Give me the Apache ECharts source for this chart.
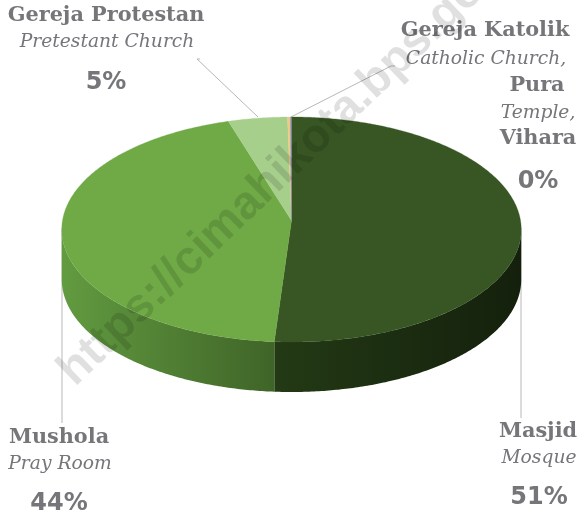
<!DOCTYPE html>
<html><head><meta charset="utf-8">
<style>html,body{margin:0;padding:0;background:#fff}#c{width:578px;height:518px}</style>
<script src="https://cdn.jsdelivr.net/npm/echarts@6/dist/echarts.min.js"></script>
</head><body><div id="c"></div>
<script>
// Data
const categories = ['Masjid', 'Mushola', 'Gereja Protestan', 'Gereja Katolik', 'Pura', 'Vihara'];
const englishNames = ['Mosque', 'Pray Room', 'Pretestant Church', 'Catholic Church', 'Temple', ''];
const values = [51.1, 44.1, 4.5, 0.2, 0.05, 0.05];
const percentLabels = ['51%', '44%', '5%', '0%'];
const topColors = ['#375623', '#6faa46', '#a6cf8b', '#f2c984', '#8faadc', '#7f7f7f'];
const wallLeft = ['#233a15', '#629b40'];
const wallRight = ['#14200c', '#3f6428'];

// Projection of the tilted pie
const CX = 291.5, CY = 220.5, RX = 229, RY = 111.8, K = 0.08, DEPTH = 50;
const total = values.reduce((a, b) => a + b, 0);
let acc = 0;
const spans = values.map(v => { const s = acc / total * 2 * Math.PI; acc += v; return [s, acc / total * 2 * Math.PI]; });
function project(t) {
  const X = Math.sin(t), Z = Math.cos(t), d = 1 + K * Z;
  return [CX + RX * X / d, CY - RY * Z / d];
}
function arc(a, b) {
  const n = Math.max(2, Math.ceil(Math.abs(b - a) / 0.01)), out = [];
  for (let i = 0; i <= n; i++) out.push(project(a + (b - a) * i / n));
  return out;
}
const frontA = Math.PI / 2 + Math.asin(K), frontB = 3 * Math.PI / 2 - Math.asin(K);

const TEXT = '#76767a';
const serifBold = 'bold 20.8px "DejaVu Serif"';
const serifItalic = 'italic 18.7px "DejaVu Serif"';
const pctFont = 'bold 24px "DejaVu Sans"';
function txt(text, x, y, font, extra) {
  return Object.assign({ type: 'text', x, y, style: { text, font, fill: TEXT, align: 'center', verticalAlign: 'middle' } }, extra || {});
}
function line(points) {
  return { type: 'polyline', shape: { points }, style: { stroke: '#b8b8b8', lineWidth: 1, fill: null } };
}
const graphics = [
  line([[200, 59], [197, 59], [258, 117]]),
  line([[395, 66], [391, 66], [291, 117]]),
  line([[62, 228], [62, 423]]),
  line([[521, 228], [521, 418]]),
  txt(categories[2], 106, 16, serifBold),
  txt(englishNames[2], 107, 42, serifItalic),
  txt(percentLabels[2], 106, 83, pctFont),
  txt(categories[3], 485, 31, serifBold),
  txt(englishNames[3] + ',', 486, 59, serifItalic),
  txt(categories[4], 537, 86, serifBold),
  txt(englishNames[4] + ',', 538, 113, serifItalic),
  txt(categories[5], 538, 139, serifBold),
  txt(percentLabels[3], 538, 182, pctFont),
  txt(categories[1], 59, 438, serifBold),
  txt(englishNames[1], 60, 464, serifItalic),
  txt(percentLabels[1], 59, 504, pctFont),
  txt(categories[0], 538, 432, serifBold),
  txt(englishNames[0], 539, 458, serifItalic),
  txt(percentLabels[0], 539, 498, pctFont),
  { type: 'text', x: 66, y: 378, rotation: Math.PI / 180 * 43.8, z: 100,
    style: { text: 'https://cimahikota.bps.go.id', font: 'bold 47px "Liberation Sans"', fill: 'rgba(0,0,0,0.12)', align: 'left', verticalAlign: 'middle' } }
];

const chart = echarts.init(document.getElementById('c'), null, { renderer: 'canvas' });
chart.setOption({
  animation: false,
  backgroundColor: '#ffffff',
  xAxis: { show: false }, yAxis: { show: false },
  graphic: { elements: graphics },
  series: [
    {
      type: 'custom', coordinateSystem: 'none', silent: true, z: 2,
      data: values,
      renderItem(params) {
        const i = params.dataIndex;
        const a = Math.max(spans[i][0], frontA), b = Math.min(spans[i][1], frontB);
        if (b <= a) return { type: 'group', children: [] };
        const top = arc(a, b);
        const bottom = top.slice().reverse().map(p => [p[0], p[1] + DEPTH]);
        const xs = top.map(p => p[0]);
        const minX = Math.min(...xs), maxX = Math.max(...xs);
        return {
          type: 'polygon',
          shape: { points: top.concat(bottom) },
          style: {
            fill: { type: 'linear', global: true, x: minX, y: 0, x2: maxX, y2: 0,
              colorStops: [{ offset: 0, color: wallLeft[i] }, { offset: 1, color: wallRight[i] }] }
          }
        };
      }
    },
    {
      type: 'custom', coordinateSystem: 'none', silent: true, z: 3,
      data: values,
      renderItem(params, api) {
        const i = params.dataIndex;
        const pts = [[CX, CY]].concat(arc(spans[i][0], spans[i][1]));
        return { type: 'polygon', shape: { points: pts }, style: { fill: topColors[i], stroke: topColors[i], lineWidth: 0.3 } };
      }
    }
  ]
});
</script></body></html>
